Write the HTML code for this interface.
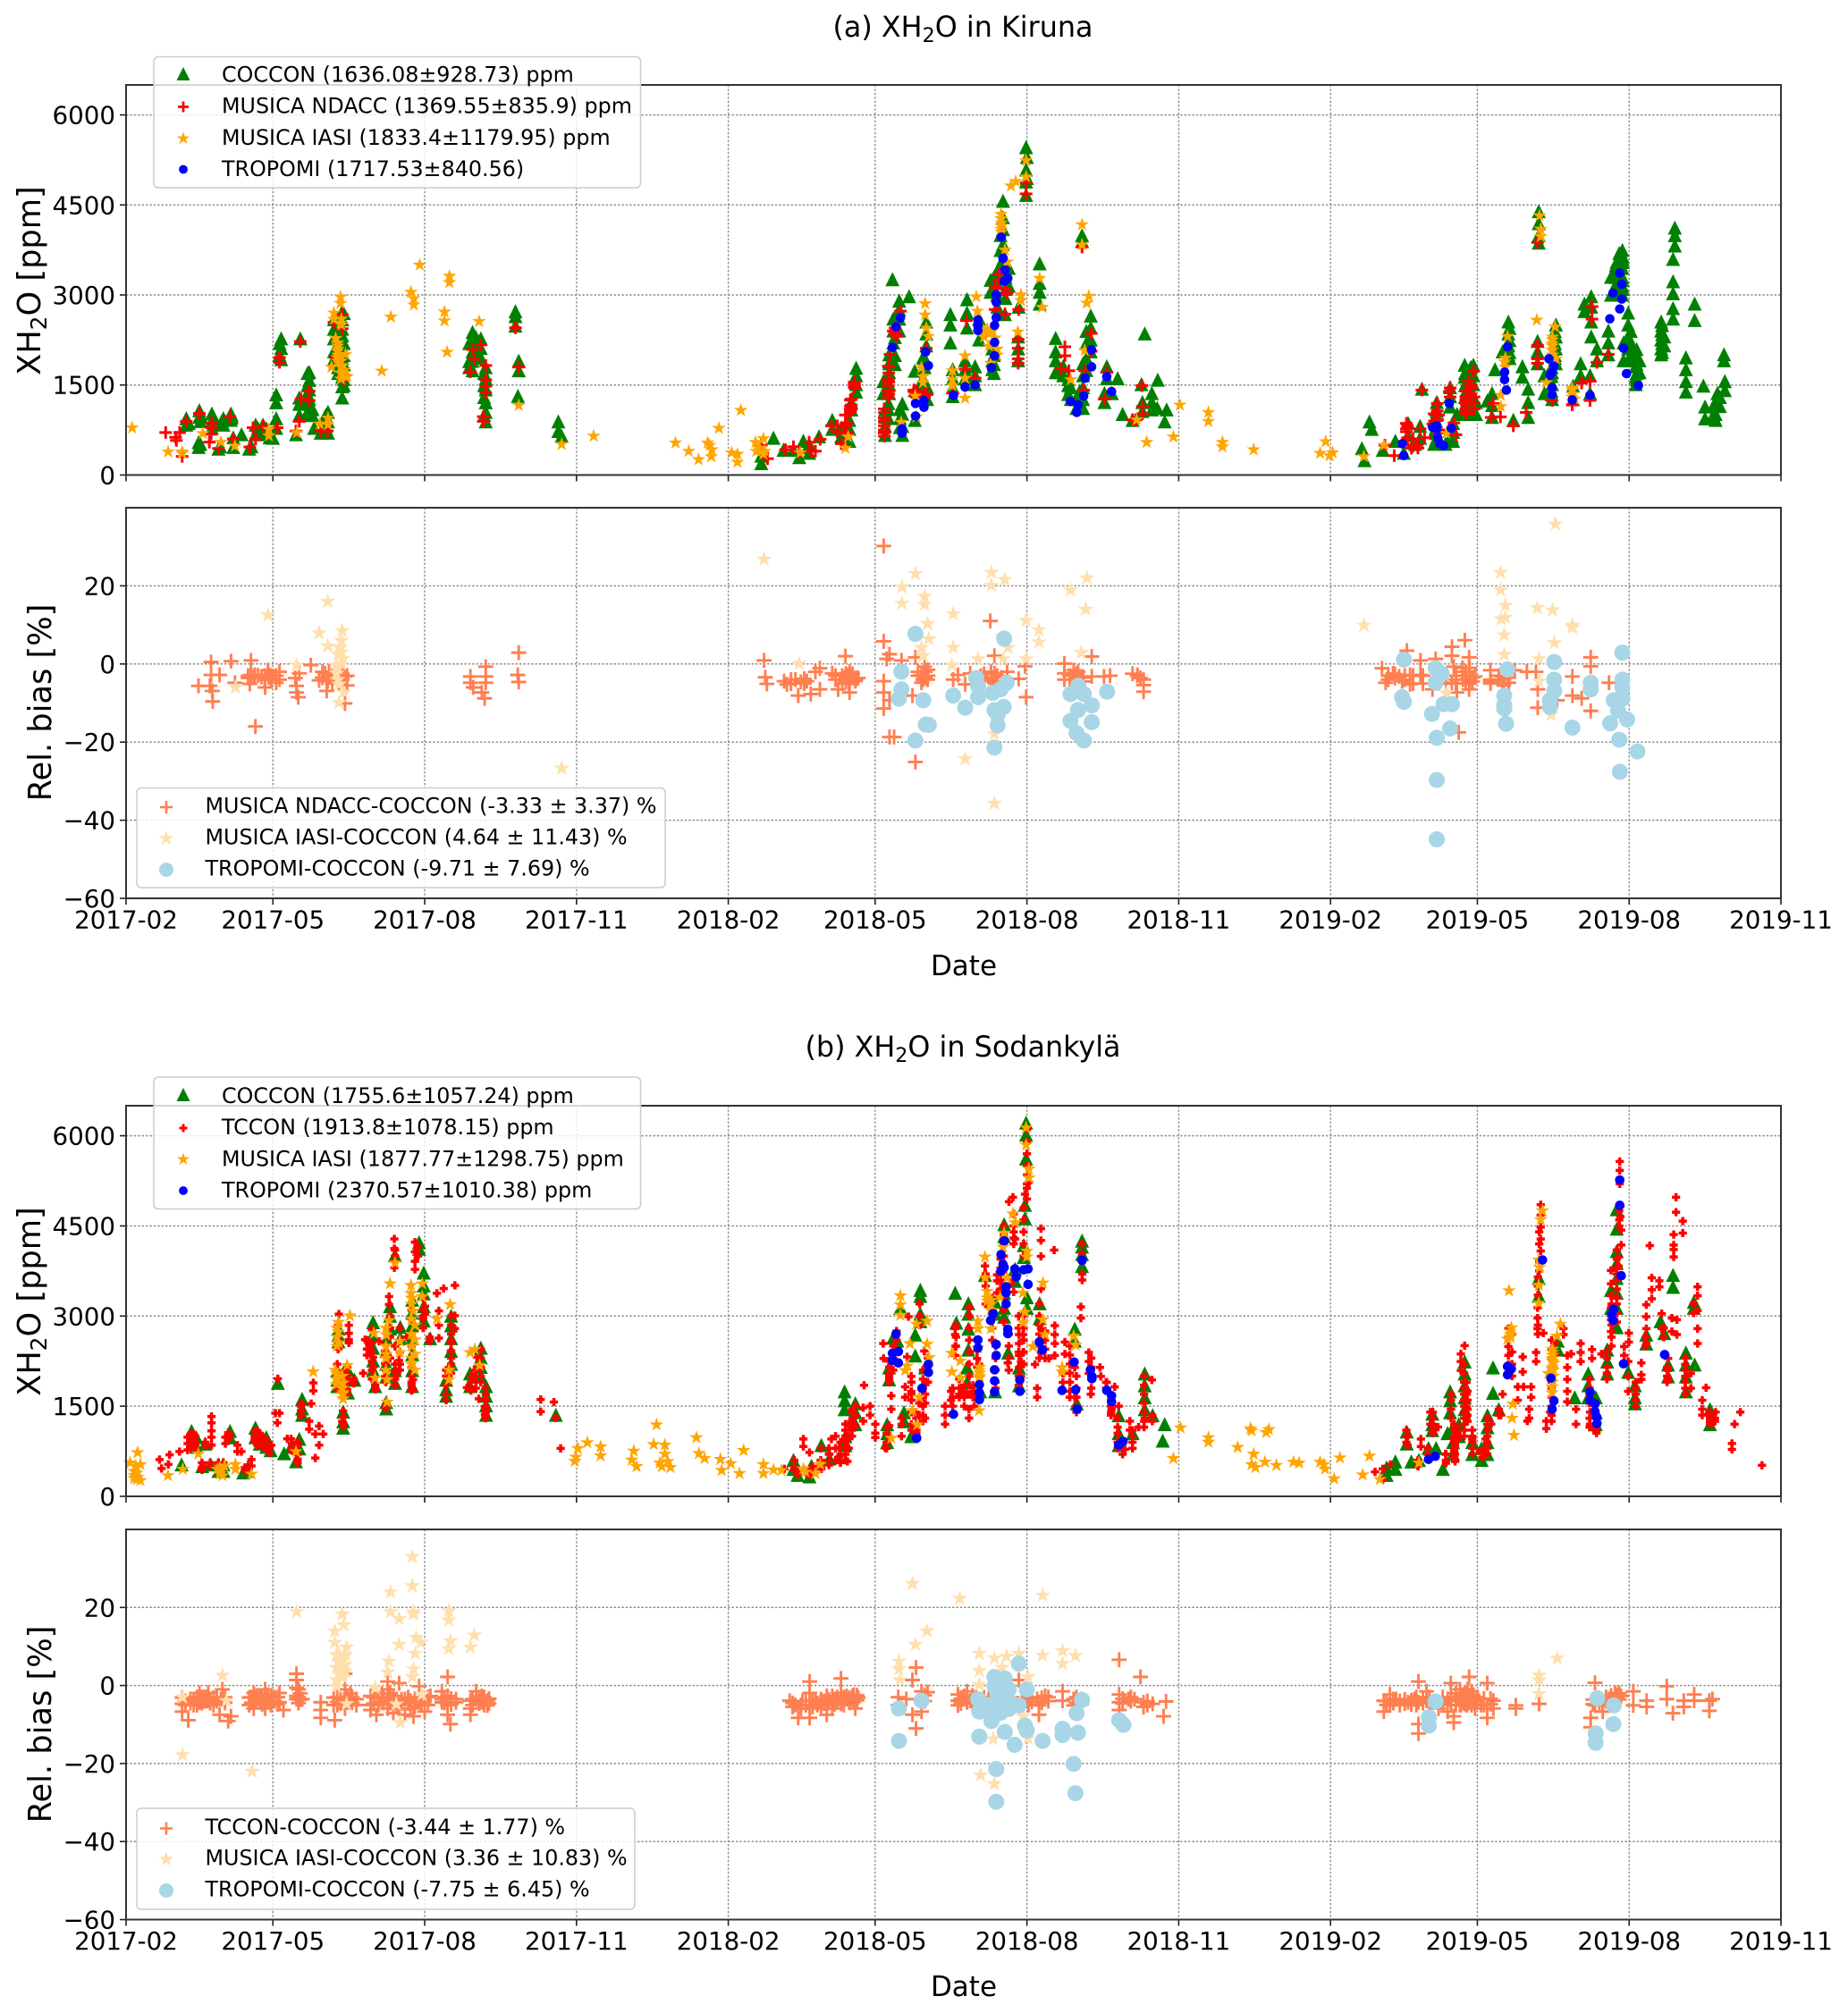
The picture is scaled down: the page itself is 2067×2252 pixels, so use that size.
<!DOCTYPE html>
<html lang="en">
<head>
<meta charset="utf-8">
<title>XH2O in Kiruna and Sodankylä</title>
<style>
html,body{margin:0;padding:0;background:#fff;}
svg{display:block;font-family:"DejaVu Sans","Liberation Sans",sans-serif;fill:#000;}
.tk{font-size:27.7px;}
.lg{font-size:23.8px;}
.ttl{font-size:31.8px;}
.xl{font-size:31px;}
.yl{font-size:35.2px;}
.box{fill:#fff;fill-opacity:.8;stroke:#ccc;stroke-width:1.5;}
</style>
</head>
<body>
<svg id="fig" xmlns="http://www.w3.org/2000/svg" width="2067" height="2252" viewBox="0 0 2067 2252">
  <rect width="2067" height="2252" fill="#fff"/>
  <g id="plots"></g>

  <text class="ttl" x="1077" y="41" text-anchor="middle">(a) XH<tspan dy="6" font-size="22.2">2</tspan><tspan dy="-6">O in Kiruna</tspan></text>
  <text class="ttl" x="1077" y="1182" text-anchor="middle">(b) XH<tspan dy="6" font-size="22.2">2</tspan><tspan dy="-6">O in Sodankylä</tspan></text>

  <text class="xl" x="1078" y="1091" text-anchor="middle">Date</text>
  <text class="xl" x="1078" y="2233" text-anchor="middle">Date</text>

  <text class="yl" transform="translate(45,314) rotate(-90)" text-anchor="middle">XH<tspan dy="7" font-size="24.6">2</tspan><tspan dy="-7">O [ppm]</tspan></text>
  <text class="yl" transform="translate(57,786) rotate(-90)" text-anchor="middle">Rel. bias [%]</text>
  <text class="yl" transform="translate(45,1456) rotate(-90)" text-anchor="middle">XH<tspan dy="7" font-size="24.6">2</tspan><tspan dy="-7">O [ppm]</tspan></text>
  <text class="yl" transform="translate(57,1929) rotate(-90)" text-anchor="middle">Rel. bias [%]</text>

  <!-- legend a top -->
  <g>
    <rect class="box" x="172" y="63.5" width="544.5" height="146.5" rx="5"/>
    <g><polygon points="205,75 212.5,90 197.5,90" fill="#008000"/><text class="lg" x="248" y="91.5">COCCON (1636.08±928.73) ppm</text></g>
    <g><path d="M199 119.5H211M205 113.5V125.5" stroke="#f00" stroke-width="2.8" fill="none"/><text class="lg" x="248" y="126.5">MUSICA NDACC (1369.55±835.9) ppm</text></g>
    <g><polygon points="0,-1 .2245,-.309 .951,-.309 .363,.118 .588,.809 0,.382 -.588,.809 -.363,.118 -.951,-.309 -.2245,-.309" transform="translate(205,155) scale(7.6)" fill="#ffa500"/><text class="lg" x="248" y="162">MUSICA IASI (1833.4±1179.95) ppm</text></g>
    <g><circle cx="205" cy="189.5" r="4.9" fill="#00f"/><text class="lg" x="248" y="197">TROPOMI (1717.53±840.56)</text></g>
  </g>
  <!-- legend a bias -->
  <g>
    <rect class="box" x="153" y="881.5" width="591" height="111.5" rx="5"/>
    <g><path d="M179 903H193M186 896V910" stroke="#ff7f50" stroke-width="2.6" fill="none"/><text class="lg" x="229.5" y="909.5">MUSICA NDACC-COCCON (-3.33 ± 3.37) %</text></g>
    <g><polygon points="0,-1 .2245,-.309 .951,-.309 .363,.118 .588,.809 0,.382 -.588,.809 -.363,.118 -.951,-.309 -.2245,-.309" transform="translate(186,938) scale(9)" fill="#ffdfae"/><text class="lg" x="229.5" y="944.5">MUSICA IASI-COCCON (4.64 ± 11.43) %</text></g>
    <g><circle cx="186" cy="973" r="8" fill="#a8d6e6"/><text class="lg" x="229.5" y="979.5">TROPOMI-COCCON (-9.71 ± 7.69) %</text></g>
  </g>
  <!-- legend b top -->
  <g>
    <rect class="box" x="172" y="1205" width="544.5" height="147.5" rx="5"/>
    <g><polygon points="205,1217 212.5,1232 197.5,1232" fill="#008000"/><text class="lg" x="248" y="1234">COCCON (1755.6±1057.24) ppm</text></g>
    <g><path d="M200.5 1262H209.5M205 1257.500V1266.500" stroke="#f00" stroke-width="3" fill="none"/><text class="lg" x="248" y="1269">TCCON (1913.8±1078.15) ppm</text></g>
    <g><polygon points="0,-1 .2245,-.309 .951,-.309 .363,.118 .588,.809 0,.382 -.588,.809 -.363,.118 -.951,-.309 -.2245,-.309" transform="translate(205,1297) scale(7.6)" fill="#ffa500"/><text class="lg" x="248" y="1304.5">MUSICA IASI (1877.77±1298.75) ppm</text></g>
    <g><circle cx="205" cy="1332" r="4.9" fill="#00f"/><text class="lg" x="248" y="1339.5">TROPOMI (2370.57±1010.38) ppm</text></g>
  </g>
  <!-- legend b bias -->
  <g>
    <rect class="box" x="153" y="2023" width="557" height="113" rx="5"/>
    <g><path d="M179 2045.5H193M186 2038.5V2052.5" stroke="#ff7f50" stroke-width="2.6" fill="none"/><text class="lg" x="229.5" y="2052">TCCON-COCCON (-3.44 ± 1.77) %</text></g>
    <g><polygon points="0,-1 .2245,-.309 .951,-.309 .363,.118 .588,.809 0,.382 -.588,.809 -.363,.118 -.951,-.309 -.2245,-.309" transform="translate(186,2080) scale(9)" fill="#ffdfae"/><text class="lg" x="229.5" y="2086.5">MUSICA IASI-COCCON (3.36 ± 10.83) %</text></g>
    <g><circle cx="186" cy="2115" r="8" fill="#a8d6e6"/><text class="lg" x="229.5" y="2121.5">TROPOMI-COCCON (-7.75 ± 6.45) %</text></g>
  </g>
</svg>

<script>
/* Every row is [days since 2017-02-01, value, value, ...]. */
const dateTickLabels = ['2017-02','2017-05','2017-08','2017-11','2018-02','2018-05','2018-08','2018-11','2019-02','2019-05','2019-08','2019-11'];
const ppmTickValues = [0,1500,3000,4500,6000];
const biasTickValues = [-60,-40,-20,0,20];

const kirunaCoccon = [
[36.5,947,840],[38,867],[44,548,468],[44.4,1080,973],[52,1026,894,787],[56,441],[59,947,840],[63.5,1026,920],[65,628,468],[70,680],[74.6,441],[78.5,840,680],[83,840,680],[87,628],[91,947,787,1345,1213],[94,2277,2117,1931],[103,680],[105.6,2277],[105,1293,1186,1000],[111,1718,1585,1426,1266,1106,1000],[114,787],[118,707],[122.4,1053,894,707],[131,2729,2596,2437,2330,2117,1958,1798,1638,1479,1293],[126,2596,2437,2277,2064,1931],[210,2383,2224,2064,1905,1745],[215,2277,2117,1958],[218,1798,1612,1426,1213,1053,894],[236,2729,2649,2490],[238,1905,1745],[237.5,1319],[262,894,734],[264,654],
[128.5,2500,2300,2100,1950,1800,1700],[132,2700,2200,2000,1850,1600,1500],[110,1700,1500,1350,1200,1050],[113,1100,1000],[45,1000,900,520],[53,950,850],[57,480],[58,900],[64,1000,960],[76,480],[80,780],[85,780],[89,620],[93,2200,2000],[121,1000,800],[208,2200,1900,1800],[212,2300,2150,2000],[217,1700,1500,1300,1000],
[385,199,323],[392.4,621],[398.5,422],[404.5,422],[408,298],[410.5,571],[414,521,372],[420,646],[428,919,770],[433.5,795,646],[438.4,919,770,571],[439.6,1217,1093],[442.5,1788,1664,1515,1391],[460,1093,969,820,670],[459,1565,1366],[462.5,2012,1863,1714,1515,1366],[464.5,3263],[465,2608,2409,2210],[468.6,2906,2757,2608,2409],[470.5,1192,1018,820,670],[474.6,2980],[478,1738,1416,919],[483,1962,1614,1267],[485,2558,2359,2160],[485.5,1465,1267],[499.6,2682,2508,2210],[501,1763,1614,1465,1316],[508.5,1912,1763,1614],[509.7,2930,2707,2459],[514.6,1813,1664,1515],[517,2608,2260],[524,3253,3055],[525,2111,1912,1763],[528,3402,3204,3005,2806],[531.5,4570,4296,4098,3849,3601,3402],[532.7,2682],[535,3452,3154],[541,2806],[540.7,2310,2111,1912],[545.5,5464,5091,4892,4669],[553.7,3527,3204,3055,2856],[563.4,2285,2061,1912,1714],[566,1714],[568,1813,1664],[572.6,1465,1267],[576,1267,1118],[579.4,3998,3899],[580,1863,1664,1465,1267,1118],[584.7,2657,2459,2260,2061],[594.4,1813,1614],[593,1366,1217],[597.5,1366],[601,1614],[604,1018],[610,919],[615.4,1515],[616,1217,1068],[617.4,2359],[621.7,1366,1217,1093],[625.3,1589],[625,1118],[629.5,894],[630.7,1093],
[462,1200,1100,950],[466,2300,2000,1850],[469,1100,950,800],[482,1550,1400],[484,1950,1800],[526,3300,3100,2000,1850,1700],[530,4000,3750,3500,3300],[533,3300,3100,2950],[546,5300,4950],[571,1600,1500,1350],[578,1400,1300,1200],[582,2400,2200,1950,1750],
[749,447],[750.6,248],[753.6,894],[755,770],[761.7,422],[769.3,571],[774.4,372],[777,869,670],[781.3,521],[784.3,820,620],[785.4,1440],[792.8,919,720,521],[794.4,1217,1068],[799.7,521],[802.5,1465,1316,1142],[804.3,869,720,571],[806.7,1018],[811.3,1838,1639],[816.6,1838,1664,1515,1267],[812.4,1416,1217,1018],[818.2,1217,1018],[825,1242],[827.9,1366,1167,969],[829.7,1763],[837.8,2558,2359,2160,2012],[834.3,2061],[840.8,919],[846.3,1813,1639],[849.8,1440,1217,969],[856.2,4396,4197,3998,3874],[855.5,2235,2061,1863],[866.6,2508,2310,2111,1863],[859.7,1664,1366],[864.3,1714,1515,1267],[877,1490,1267],[881.6,1863,1664],[883.9,2856,2732],[888,2980,2806,2558,2310],[887.3,1664,1366],[891.5,2111,1912],[898.4,2409,2210,2011],[906.9,3750,3601,3452,3303,3154,3005],[903.4,3551,3353,3204,3055],[900,3303,3005],[910.4,2707,2508,2310,2111,1912],[907.6,2210,1912],[915,2011,1813,1639,1515],[917.3,1912,1714],[930.4,2558,2409,2260,2111,2012],[932.3,2310,2161],[938.7,4123,3998,3825],[937.6,3601,3229,3030,2782,2608],[950.7,2856,2583],[945.4,1962,1763,1565,1391],[956,1490],[957,1142,944],[963.4,1217,1018,919],[968.5,2012,1912],[969,1565,1416],[964.5,1366,1217],
[905,3700,3500,3400,3200,3100],[903,3500,3400,3300,3150],[907,3650,3550,3250,3100],[915.500,2100,1950,1850,1700,1600],[912,2400,2200,2000],[931,2500,2350,2200,2050],[811.500,1700,1500,1300,1150,1100],[815,1800,1700,1550,1400,1200,1050],[794,1100,1000,900,800,700,600],[803.500,800,650,600],[864,1800,1650,1400,1350],[838.500,2450,2250,2050,1950],[866,2400,2200,2000,1950],[962,1150,1000,950],[966,1300,1150]];

const kirunaNdacc = [
[24,707],[30,628],[30.5,575],[32.5,707],[34,309],[36.5,894],[44.4,1026],[52,867,787],[51.5,680],[50.5,548],[56,441],[63,973],[65,601],[75,468],[77,787],[78.5,601],[83,814],[91.6,787],[93,1958,1878],[103,734],[105,894],[105.6,2224],[106,1266],[111,1399,1240],[118,734],[122,734],[126,2543],[127,1958],[131,2676,2437],[132,1585],[208.6,1718],[210,2091],[211,1931],[215,2170],[218,1825,1585,1479,1373],[216.5,973,894],[236,2452],[238,1798],
[385,497],[386,373],[388.8,273],[399.7,422],[404.5,472],[408,372],[414,546],[415.4,397],[417.8,397],[420.7,596],[427.5,820],[431,820,720],[433.5,521],[437,869,695],[439.6,1267,1167,1093],[441.3,1540,1465],[459.6,1043,820,646],[462,1590,1490,1291,1813],[463,2012],[465,2399],[467,2310],[469.3,2732],[477.5,1416,1391],[485.5,1341],[485,2111],[509.3,2573],[501,1366],[508.5,1763],[514.6,1614],[526.7,3129,2757],[528,3005],[532.7,2682],[534,3030],[541,2757],[540.7,2260,2111,1937,1863],[545.5,4868,4684],[569,2136,1987],[566.6,1773],[571.4,1738],[579.4,3800],[581,1738],[580.4,1416],[585,2359,2061],[594.4,1714],[593,1267],[610,919],[612,919],[615.7,1490],[616,1142,1018],
[436,1000,850,800,700],[439,1250,1150,1100,1050],[441.5,1550,1500,1450],[459.5,1100,950,900,750,700],[462.3,1800,1700,1550,1400,1350],[466,2450,2350],[479,1400,1350,1300],[484,1350,1300],[529,3350,3250],[533,3100],
[762.9,497],[768.6,323],[776.7,820,621],[779,447],[782.5,497],[784.3,770],[787,621],[785.4,1416],[792.8,1018],[794.7,1192,1068],[795,919],[804.8,869],[806,670],[802,1391],[813.6,1565],[816.6,1729],[814.7,1316],[812.4,1167,1018],[827.4,959],[828.6,1192],[833,969],[840.8,820],[848.6,1043],[855.5,3874,2161,1937,1863],[864.3,1242],[876.5,1167],[882.2,1530],[887.3,1565,1242],[888.5,2806,2598],[891.5,1877],[898.4,2011],
[793,900,850,800],[795.5,750,700,1000],[812,1400,1300,1250,1200,1100,1050],[815,1500,1450,1350],[817,1300,1200,1100],[792,850],[776,860,770,720],[780,600,500,480],[783,450],[802.5,1450,1300]];

const kirunaIasi = [
[3.7,787],[25.5,388],[34,388,362],[46.5,692],[57.5,548],[66,484],[86.5,761,654],[103.5,707],[117.4,851],[122.4,947,840],[130,2968,2862,2532],[126,2702,2596],[127,2277],[128,2064,1958],[124.5,1798],[133,2011],[131,1825],[132,1692],[134,1638],[155,1734],[160.5,2633],[172.6,3048],[174.4,2942,2836],[178,3500],[193,2718,2570],[194.6,2048],[196,3314,3208],[214,2559],[238,1160],[264,511],[283.4,649],
[128.3,2200,2150,2100,2000,1900],[130.2,1900,1800,1700,1600],[132.5,1750,1650],[130.5,2600,2500],
[333,536],[341,397],[347,258],[352.5,536],[353.7,497],[355,422],[354.7,308],[359.3,780],[367,372],[370.6,348,214],[372.6,1078],[381.5,546],[382,397],[386.3,606,348],[408.6,372],[436,447],[437.6,636],[469.8,879],[478.3,1316],[479,969],[482,1788],[483,1639,1540],[484.3,2856,2667],[485,2449],[486.3,2310],[500.8,1738,1589,1490],[508.5,1987,1614,1281],[515.3,2970],[516,2732],[522,2434],[524.3,2384],[525.5,2185],[524,1863],[526.7,2285],[530.3,4272,4098,4346],[532.7,3750],[534,3551],[536.3,4818],[539.2,4893],[545.5,5240,4967],[542.4,3005,2906],[540.5,2384],[553.7,3278],[555.2,2796],[572.6,1589],[579.4,4172,3835],[581,2076],[583.5,2980],[582.3,2866],[612.5,919],[618.6,546],[634.8,636],[638.7,1167],[656,1043,894],[664.5,546,472],
[530.5,4200,4150,4050],[384,450,420],[387,400],[520,2400,2300],[523,2350,2150],[528,2100,2000],
[683.4,422],[727.1,556],[723.7,363],[729.4,323],[731.3,372],[750.2,308],[762.4,497],[800.2,695],[833.2,1331,1142],[835.5,1887],[855,2583],[856.7,4321],[857.4,4098,3974],[837.3,2310],[866.1,2469],[864.3,2185,2086],[866.6,1937],[860.8,1540],[876.5,1416],[878,1267],
[864.5,2300,2250,2150,2000,1950,1850],[836,1950,1800],[876.5,1450,1350,1300]];

const kirunaTropomi = [
[464.5,2126],[466.6,2469],[469.3,2618],[470.3,770,695],[478.5,1192,983],[483.6,1242,1128],[484.6,2051],[486.3,1823],[501.5,1326],[508.5,1465],[514.6,1500],[516.3,2583,2484,2409],[524.5,1788],[526.4,1987,2210,2493],[527.4,2623,2881,3005],[532.2,3229],[532.7,3412],[534.4,3278],[531.5,3611],[530.5,3964],[572.4,1227],[576.2,1043],[577,1167],[580.4,1316],[581.3,1614],[585.2,1803,2086],[594.4,1639],[597.3,1391],
[773.5,521],[774.4,323],[791.9,795],[794.4,820,770],[795,621],[796.3,521],[798.6,487],[802,1192],[803.2,780],[835.5,1714,1589],[836.6,1416],[837.3,2136],[862.4,1937],[865.4,1813],[864.3,1714,1455,1341],[863.1,1664],[876.5,1252],[887.3,1331],[905.3,3363,2767],[906.5,3179,2931],[901.2,3030],[899.3,2603],[907.6,2111],[909.4,1689],[916.6,1490]];

const kirunaNdaccBias = [
[43.9,-5.6],[51.5,0.5,-2.8],[50.8,-5.6],[52.2,-6.9],[52.5,-9.6],[56.7,-2.8],[63.6,0.7],[66,-4.8],[75.7,0.9,-2.8],[75,-5.1],[77.4,-3.2],[78.4,-16],[80,-2.9],[82,-3.3],[84.3,-3.2,-6],[86,-1.6],[87.8,-4],[93,-2,-4],[102.6,-3.6],[103.3,-5.6,-7.3],[104.4,-8.5],[105,-2.4],[112,-0.3],[117,-4.2],[120.6,-2.4],[121.6,-6.9],[122.3,-4.4],[132.7,-10.1,-3.2],
[84,-3,-3.5,-4],[86.500,-2.8,-3.4],[88,-3],[78,-2.8,-3.4],[74,-3,-3.6],[91,-3,-4.8],[119,-2,-3.5],[123,-3,-2],[125,-5,-3],[129,-3.2,-5],[131,-4,-2.5],[134,-3,-5.5],
[208.7,-3.2,-4.8],[210.4,-6],[215.6,-7.3],[217.3,-8.8],[218,-0.7,-3.2,-4.8],[237.4,-2.8],[238,2.9,-4.6],
[386.7,0.9],[387.4,-3.4],[388.4,-5.1],[398.8,-4.4],[400.5,-5.2],[405.7,-4],[407.4,-8.1],[409,-4.6],[412.6,-4.4],[415,-7.7],[417.8,-2],[420.5,-6.5,-1.1],[428,-2.4],[431.6,-6.5],[436,2],[436.8,-2.8],[438.5,-7.3,-4,-2],[440,-3],[442,-4.4],[443.7,-3.6],
[430,-3,-4],[434,-3,-4,-5],[436.200,-3.5,-4.5,-2.5],[438,-3,-5],[440.300,-3.6,-2.5],[442.300,-4],[403,-5,-4],[411,-5,-3.8],
[459.2,30.2,5.8,-4.4,-7.3,-11.4],[462.7,-18.7,2.5,-9.3],[461,1.3],[465.5,-18.7],[478.4,1.7,-25.1],[470,0.9],[476.6,-8.1],[482.1,-4.8,-2.8],[484,-0.7],[485.8,-4],[501.3,-4],[508.6,-5.2],[504.2,-2.8],[511.6,-2.4],[523.8,11],[526.3,2.1,-2.4],[524.5,-4.4],[541,-3.8],[544.8,-0.6],[545.5,-8.5],[568.7,0.1,-4,-2.4],[574.3,-1.6],[579.8,-3.2],[585.3,1.9,-3.2],[592.7,-3.2],[596.4,-3],[610,-2.5],[614.8,-3.6],[616.7,-4,-5.4,-7.1],
[480,-3,-2],[484.300,-2,-3.5,-3],[486,-3,-1.5],[483,-4,-3],[518,-3,-4],[524.200,-4,-2],[526.500,-5,-3.5],[528,-3,-4.500,-6],[531,-3.5,-5],[534,-4,-2],[520,-3.5,-2.5],[572,-3,-4],[576,-3,-2.500,-4],[580,-3.5,-4.500],[613,-3,-2.800],[577,-2,-3.6],
[761.2,-1.1],[763.4,-4.8],[767.9,-2.4],[771.6,-3.2],[776.3,3.4],[773.4,-4.4],[778.2,-5.2,-2.8],[784.5,0.9,-2.8],[791.8,-6.5],[793.7,1.3],[803.6,4.4,2.1,-4.8],[811.4,6.1],[804.7,-0.7],[814,1.7,-2,-6.5],[806.6,-7.3],[807.7,-17.5],[810.3,-4],[817.6,-3.2],[826.9,-4.4,-1.6],[834.2,-3.2,-4.8],[841.6,-1.6],[849,-2],[854.5,-2],[855.6,-11.2,-6.5],[876.6,-3.2,-8.1],[882.2,-8.8],[887.7,1.7,-0.6,-12],[898.8,-4.8],[867.4,-9.3],
[765,-3,-4],[769,-3.6,-2.6],[775,-3,-4],[780,-3,-5],[786,-3,-5],[800,-3,-5],[806,-3,-4,-5],[810,-2,-1,-3],[812,-3,-4,-5,-2],[814.300,-3,-4,-5,-1],[816,-3.5,-4.500],[827,-4,-5],[832,-4,-3],[835,-4,-5.500],[838,-3.500,-4.800]];

const kirunaIasiBias = [
[86,12.5],[122.3,16,4.6],[117,7.9],[131,8.5],[129.2,4.2],[130,4.2],[127.5,-0.3,-2.4],[131.5,1.3],[129,-5.2,-9.9],[132,-7.3],[66.3,-6],[103.3,-0.3],[264,-26.7],[386.7,26.8],[408,0.1],
[130.5,6,3,0],[128.5,2.5,-1,-4],
[478.4,23.1],[470.3,19.7,15.5],[484,17.3,15.2],[485.8,10.3],[486.5,6.4],[482.1,4.2],[483,2.1],[501.3,12.8,4.2],[500.5,-0.3],[508.6,-24.3],[516.4,1.3],[524.5,23.4,20.1],[532.6,21.6],[531,7],[534.5,4.2],[531.5,1.3],[526.3,-17.9,-35.7],[545.5,11.1,1.3],[553.3,8.7,5.6],[572.4,18.9],[582.4,22],[581.6,14],[579,2.9],
[750.2,9.9],[833.1,23.4,18.9],[836,15,11.9],[833.5,11.5],[835.3,7.4,2.4],[800.3,-7.4],[855.3,14.4],[864.5,13.8],[866.3,35.8],[865.6,5.4],[876.6,9.9,9.3],[856.4,1.3,-4.4],[863.7,-13]];

const kirunaTropomiBias = [
[469.9,-2,-6.5],[468.4,-8.9],[478.4,7.7,-19.6],[483.2,-9.3],[484.7,-15.5],[486.5,-15.6],[501.3,-8.1],[508.6,-11.2],[515.3,-3.6],[516.4,-5.6,-8.5],[525.2,-7.4],[526.3,-11.8,-21.4],[528.2,-13,-15.7],[531.9,-11],[532.2,6.5],[530,-6.5],[533.7,-4.8],[572.4,-7.7,-14.6],[576.9,-11.8],[576.1,-17.7],[580.5,-19.6,-7.7],[577.2,-5.6],[585.3,-10.6,-14.9],[594.6,-7.1],
[774.5,1.1,-9.7],[773.4,-8.5],[791.5,-12.8],[793.7,-1.1,-4.8],[797.4,-2.5],[798.5,-10.3],[803.6,-10.3],[794.4,-18.9,-29.7,-44.9],[802.5,-16.5],[835.3,-8.1,-10.6,-11.4],[836.4,-15.3],[837.2,-1.4],[865.6,0.5,-4,-6.9],[863,-9.3,-11],[876.6,-16.3],[887.7,-4.8,-6.5],[899.5,-15.2],[901.7,-9.3],[904.3,-12],[906.9,2.9,-4,-6,-8.9],[905,-19.4],[905.4,-27.6],[909.8,-14.2],[916,-22.4]];

const sodankylaCoccon = [
[33.6,532],[39.7,1090,984,878],[42.6,984,825],[48,878],[46.2,505],[51.3,532],[56,532,425],[59,532,425],[63,1090,984],[71,399],[74,425],[78.4,1144,984],[81,984,878],[85,984,825],[87.6,771],[92,1889],[95.8,718],[100,825],[105,958,798],[103,585],[106.7,1623,1463,1357],[128.7,2793,2687,2580],[128,2101,1942,1835],[131.6,2048,1410,1250,1144],[134.5,2101,1942,1729],[138.4,1942],[149.7,2899,2687,2474,2261,2101],[151,1835],[157.7,2633,2421,2208,1995,1569,1463],[160,3165,3006,2793],[163,2101,1889,4017],[166.2,2820,2633],[173.4,3272,3059,2846,2633,2367,2101,1835],[177.6,4229,4123],[180.4,3724,3511,3378,3165,2926],[184.3,2633],[194,1942,1782,1676],[197,3006,2846,2633,2421,2208],[208.5,2048,1835],[215,2474,2314,2155,1995],[218.2,1835,1676,1516,1357],[260.5,1357],
[404.5,606,457],[407,358],[414.2,333],[415.4,507],[421.4,854],[426.3,631],[435.5,1748,1599,1450],[436,1003,854],[442,1550,1401,1202],[461.3,1202,1053,904],[469.3,3139],[465,2642],[467.4,2593],[462.5,2146,1947],[481.4,3437,3338,3040,2916],[478.3,2692,2344],[471.5,1401,1252],[475.9,1003],[484.3,2146],[502.5,3388],[503.2,2891],[510.5,3214,3040,2791,2444],[509.7,2146,1897],[517.7,1748],[520.6,3685],[526.7,3238,3040,1748],[532.2,4530,4331,3388,3139,2990],[534.6,2394],[538.8,3785,3586],[545.5,6219,6020,5623],[544.8,4853,4629],[544.1,4182,3984],[541.2,2146,1848],[546,3313,3139],[553.7,3214,2965],[579.4,4257,4157,4033,3834],[575,2791,2593],[576.2,1550],[601.6,1351,1053,854],[610.1,1053],[617.4,2046,1848,1649,1450],[622.2,1351],[629.5,1202],[628.3,929],
[776.2,1078,879],[779,581],[783.6,606],[769.3,581,457],[764,482,358],[789.4,805],[791.7,1376,1202,1103],[794,805],[798.1,457],[802.5,1748,1599,1401],[800.9,1053],[811.3,2245,2046,1848,1649,1450],[807.8,1202,1003],[804.3,1152,904,705],[815.9,904,705],[821.6,805,606],[825.1,1351,1152,904,705],[828.5,2146,1724],[832,1450],[856.2,3636,3338],[867.7,2593,2444],[878,1649],[886.2,2046,1848,1649],[890.8,1649,1401,1202],[897.7,2444,2245,2046],[903.5,4778,4455,4083,3884,3636,3388,3139,2816],[900,3437,3139],[910.4,2071],[914.5,1848,1649,1550],[921.4,2692,2543],[930,2916],[932.3,2717],[934.6,2195,1997],[937.6,3685,3487],[945.4,2394,2195,1997,1748],[950.7,2195],[950.2,3238,3139],[960,1450,1202]];

const sodankylaTccon = [
[20.3,612],[21.5,463],[26.4,692],[25.6,532],[32.4,745],[37.3,771,878,984],[40.9,1037,931],[47,505],[51.8,1330,1223,1090,984,851],[60.2,984,878],[67.5,851,745],[69.9,745],[76,612,505],[79.6,1090,984,851],[84.4,931,825],[88,851],[92,1958],[90.5,1383],[93,1383],[91.7,1223],[97.7,958],[100,958],[103.8,585],[106.2,1436,1543],[112.2,1543],[113.5,1889,1756],[111,1250,1117],[114.7,638,1037],[117,1170,851],[119.5,1037],[129,3032,2474],[135,2846,2713,2607,2554],[131,1250],[143.7,2048],[144.9,2607],[147.3,2527],[149.7,2314,2155,1995],[153.4,2580],[157,2421,2208,1995],[159.4,3325,3192],[162.6,4283,4123,3910,3804],[165.5,2261,2101],[175.1,4229,4070,3910,3777],[173.9,1942,1782],[181.2,3165,3032],[188.4,3378],[192.5,3458],[199.3,3511,3006,2793],[189.6,3086,2846,2633],[196.9,2580,2421],[206.6,1809],[210.2,1995],[213.8,1623],[212.6,2314,2155],[217.5,1623,1490,1357],[251.3,1612,1410],[259.3,1569],[260.5,1303],[263.4,798],
[39.5,1050,960,900,840,800],[42,1000,900,860,800],[46,560,480,440],[48,900,840],[51,560,500],[56,560,500,460],[59,560,480],[62,1060,1000,950],[63,1020],[72,480,420],[74,520,460],[78,1080,1000,950,900],[81,1050,970,900],[83,980,880,820],[85,940,860,780],[87,800,720],[100.500,880,800,760],[104,900,840,700,620,560],[106,1500,1420,1340],
[128.5,2850,2760,2650,2560,2450],[128,2200,2080,1980,1860,1780],[131.5,2060,1950,1420,1320,1220,1160],[134,2150,2020,1900,1780,1700],[138,1950,1880],[146,2600,2450,2350],[149,2780,2550,2400,2250,2100,1950],[151,1850,1780],[157.5,2520,2350,2220,2100,1980,1900,1500,1460],[160,3000,2800,2650,2300],[163,2500,2200,2000,2080,1950,1850,4100,4000],[166,2800,2600,2400,2200,2100],[170,2650],[173,3100,2950,2700,2500,2300,2150,2000,1900,1850,1760],[177,4150,4000],[180,3300,3100,2950,2800,3000],[184,2650,2580],[194,2000,1850,1700,1600,2100,2000],[197,3000,2850,2700,2550,2420,2300,2200,2050],[209,2000,1900,1820,1760],[212,2100,2000,1900,1800],[215,2450,2300,2150,2000,1900],[218,1800,1700,1600,1500,1450,1400,1330,1300],
[399,457],[410.5,954,829],[414.2,730],[415.4,407],[421.4,457],[427.5,954],[426.3,705],[432.3,805,656],[437.2,805,581],[436,1202,954],[440.3,1450,1301,1152],[446.8,1475,1252],[450.9,1500,1351],[447.3,1848],[454.1,1202,1053,978],[460.1,805],[462.5,1177,954,2046,1897],[463.8,1674,1450],[458.9,2543],[459.1,2295],[474.2,2990],[473.4,2320],[472.2,1823,1649],[475.9,1997,1748],[478.3,1401,1152],[480.7,1550,1351],[484.3,1897,1699,1550,1301],[483.8,2419],[496.4,1500,1351,1202],[500,1748,1599],[502.5,2493,2344,2791,2692],[510.9,1450,1301,1699],[505,1649],[515.8,2419,2295,2146],[513.3,1848,1649],[520.6,3834,3636],[527.9,3685,3586,3388],[531.5,3735,3536],[535.1,4903],[537.5,4977],[536.3,3536],[538.8,4282],[534.4,2220],[541.2,2692,2543,2344,2146],[543.6,2692,2394],[542.4,2245,1997],[544.8,5027],[546,5127],[547.2,5225],[554.5,4455,4257,3993,3452,2791,2593,2394],[562.5,4098],[552.2,1798,1649],[550.9,2195],[562.9,2841,2692,2543,2344],[559.3,2295],[569,2568,2369],[567.8,2046,1897],[575,2146,1649],[578.7,3154,2965],[583.5,2394,2245,2046],[584.7,1699],[590.3,2146],[590.8,1997],[594.4,1897],[599.2,1823],[597.3,1450],[601.6,1500],[605.3,780],[608.4,1252,1103],[613.7,1152],[617.4,1301],[621.7,1937],
[405,600,500,440],[407,420,360],[414,380,340,420],[416,500,450,400],[421,800,600,500,460],[426,800,700,600,520],[430,1000,800,600],[433,900,700,560],[436,1100,1000,900,800,700,600],[438,1200,1000,800],[440,1400,1250,1100,1000],[442,1500,1350,1180],[461,1150,1050,900,800],[462.5,2000,2150,2250,1950],[465,2500,2300,2100],[467,2750,2600,2450],[470,1300,1200,1000],[476,1900,1700,1600,1400,1200,1100],[479,1300,1050,1000,1100],[481,3200,3000,2850],[483,2100,1950,1800,1650,1500,1350,1250],[486,2300,2100,1900],[501,1800,1650,1500],[503,2850,2650,2500],[505,1950,1800,1700],[508,1850,1750,1650,1500],[511,3150,3000,2800,2600,2400,2200,2000,1850],[514,1750,1650,1500],[517,2200,2000,1850,1750],[521,3700,3500,3200],[525,3300,3100,2950,2800,2600],[527,2500,2300,2100,1900,1800],[530,3950,3800,3600,3450],[532,4500,4350,4200,4000,3300,3100,2900],[535,2700,2500,2300,2100],[538,4700,4500,4400,4300,4200,3600,3400],[541,3000,2800,2400,2000,1850],[544,4800,4600,4400,4200,4000,3000,2800,2600,2400,2200],[546,6100,5900,5700,5500,5350,5200,4950],[553.5,3200,3000,2850,2700,2500,2300],[557,2750,2600,2450,2300],[572,2500,2350,2200,2050,1900,1750,1650],[576,2000,1800,1650,1500,1400],[579.5,4200,4050,3900,3700,3600],[585,2300,2150,1950,1800],[594,1900,1800],[597,1600,1500,1400,1350],[601,1300,1150,1050,900,800],[604,900,800,700],[610,1100,1000,900,800],[617,2000,1850,1700,1550,1400,1250,1150],[622,1350,1250],
[757,407],[761.7,457,283],[766.3,531],[776.7,1003,854],[784.8,954,829],[790.5,1401,1202],[795.1,1152],[799.7,705],[805.5,1152,1003,854,705,581],[809,2369,2245,2096],[811.3,2508],[812.4,1897,1699,1500,1301],[815.9,1103,954],[820.5,755],[824,954,805],[827.4,1202],[833.2,1351],[834.3,1699],[837.8,2791,2642,2493,2344,2195],[846.5,2320,2071],[843.5,1823,1599],[847,1823],[851.6,1823,1649],[850.4,1450,1301],[849.3,1252],[854.6,2394,2245],[857.4,4853,4679,4480,4282,4083],[855.5,3139,2965,2791],[859,2717],[860.8,1252,1127],[863.1,1401],[871.2,2791,2692],[873.5,2344,2146,1947,1748,1575],[875.8,2369],[878.8,1450,1202],[881.6,2543,2394,2245],[888.5,2444,2295],[887.3,1649,1401,1202],[891.2,1053],[894.2,2369],[900,3760,3536,3338,3139,2940,2742],[905.3,5573,5424,5200],[905.7,4828,4654],[906.2,4431,4182],[904.6,3984,3834],[910.8,2717,2568],[908,2493,2344],[910.4,2245,1997,1748],[918.4,2220,2022,1947],[923.5,4172],[921.4,3189,2990,2791,2543],[924.7,3636,3437,3288],[929.3,3586,3487],[930.7,3040,2791],[938,4356,4182,4108,3984],[939.4,4977,4729],[943.5,4580,4381],[936.9,2965,2742],[939.9,2940,2692],[934.6,2295,2096,1947],[952.5,3487,3338,3090,2791,2543],[945,2195,1997],[948.4,2046,1798],[957.6,1808],[955.3,1599,1450,1351],[961,1351,1202],[963.4,1401],[974.9,1202],[978.4,1401],[973.3,879,780],[991.5,517],
[776,1100,1000,900],[783,600,500],[789,800,700],[792,1400,1300,1200,1100,1050],[800,700,600,550],[803,1700,1600,1450,1300],[805,1200,1100,1000,950,900,800,750,650],[807,1050,950],[811,2200,2050,1900,1800,1700,1600,1500,1400,1300,1200,1100,1000],[813,1750,1600,1450,1350,1250],[816,1000,900,800,700],[822,750,650],[825,1300,1200,1100,1000,900,800,700],[832,1450,1350],[840,2700,2400,2200,2000],[855.7,3650,3500,3350,2850,2700],[856.5,4400,4200,3900,3750],[866,2550,2350],[864,2600,2450,2300,2100,1900,1800,1650,1500,1350,1250],[887,1950,1800,1700,1550,1300,1150],[891,1150,1100],[897.5,2400,2300,2150,2050,1950],[900.3,3200,3000,2850,2650,2500],[903.5,4100,3950,3800,3700,3600,3450,3300,3200,3050,2900],[905,4750,4600,4500],[915,1900,1800,1700,1600,1500],[921,2650,2500],[932,2800,2650],[934,2150,2000,1900],[945,2300,2100,1900,1800,1700],[950,3200,3050],[960,1400,1350,1300,1250,1200],[963,1300,1250]];

const sodankylaIasi = [
[2.4,559],[7,729,319],[5.8,505],[8.7,532,266],[25.4,346],[34.4,452],[43.8,708],[55.4,452],[58.5,346],[59.7,505],[66.3,532,452],[76,372],[103,745],[113.4,2075],[128.7,2899,2740],[129,2554],[135.7,3006],[126.8,2101],[127.5,1862],[131.5,1889,1729,1622],[134,2181],[150.2,2713],[150.9,1968],[157.7,2687,2367],[158.2,1942,1569],[159.4,2926],[160,3538],[165.9,2580,2394],[163,3884],[172.7,3378,3511],[173.9,3086],[175.1,2846,2607,2367,2101],[179.5,3538,3325],[188.4,2953],[196.4,3192],[195.7,2101,1942],[208.5,2394],[211.4,2447],[214.3,2181],[272.6,654],[273.8,798],[279.6,894],[287.6,825,676],[272,585],
[127.5,2050,1950],[131,2000,1800,1700],[127.8,2800,2650,2500],[173,3300,3200,2950,2700,2500,2300,2200],[157.5,2800,2500,2300,2100],[5,350,300,420],[6.5,280,390],[57,480,420,380],
[306.5,606],[307.7,755],[309.4,497],[321.5,1192],[319.8,864],[326.6,854,705],[323.5,556],[324.7,497],[328.3,581],[330,482],[345.7,978],[347.2,715],[350.6,631],[360.2,616],[361,432],[366.5,546],[374.3,765],[371.8,382],[386.3,531,382],[392.4,442],[397.2,432],[410.5,457],[411.8,407],[417.8,382],[420.7,531],[463.8,969],[469.3,3338,3189,3015],[485.5,2916,2533],[479,2866],[475.1,2543],[486.7,2310],[473.4,2171],[472.2,2096],[480.7,1649],[476.6,1426],[479.5,1192],[500.5,2384,2071],[505.6,2255,1972],[517,1426,2096,1972],[516.3,2916,2791,2469],[520.6,3984,3636],[521.8,3412],[524.2,3263,2791],[529.8,3313],[531.5,4147],[532.2,4381],[534,3636],[537.5,4704],[538.8,4555],[543.6,3388,2891],[544.8,3065],[545.5,6134,5846],[547.2,5449,5300],[546,4083,3984],[555.7,3551,2940],[557,2692],[549.6,2493],[567.3,2146,2071],[574.3,2667],[575.5,2518],[639.1,1142],[656,978,904],[673.7,815],[634.8,631],[682.2,531],[681.5,1127],
[524,3200,3100],[522,3300,3250],[517.3,2050,2000,2150],
[682.2,1093],[691,1063],[692.6,1113],[683.4,705],[684.5,482],[690.3,571],[697.2,517],[707.6,571],[711,556],[723.7,571],[726,531],[726.7,457],[735.7,641],[732.2,293],[749.5,358],[753.6,671],[759.9,283],[783.6,556],[838.2,3422],[839.6,2806],[839,2692],[837.3,2618],[840.5,1535],[840,1301],[841.2,1018],[856.2,3934,3512,3214],[856.7,3810],[858.5,4753],[857.4,4604],[869.3,2866],[867.3,2667],[864.3,2295,2121,1823,1724],[865.4,2220],[862,2046],
[864.5,2450,2400,2350,2250,2150,2000,1900],[865,2100,2000],[839,2750,2650]];

const sodankylaTropomi = [
[466.7,2702],[468.1,2409,2220],[464.5,2379,2260],[486.3,2195,2061],[482.4,1798],[479.2,969],[501.5,1366],[516.3,2603,2469],[517.2,1858,1724,1609],[524,2926],[525.5,3040],[527.4,2528,2344],[526.4,2106,1922,1738],[530.3,4023,3745],[531.5,3859],[532.2,3810,4252],[533.4,3487,3388,3204],[534.4,2782,2707],[538.7,3785],[539.5,3651],[541.7,1937,1748],[544.1,3770],[546.7,3785,3527],[553.5,2568],[555.4,2434],[567.3,1763],[574.6,2235],[575.5,1773],[576.5,1450],[579.4,3929],[584.5,2106],[585.4,1997,1957],[594.4,1763],[597.3,1674,1574],[601.6,854],[604.3,914],
[789.4,616],[793.5,666],[837.3,2161,2022],[839.6,2121],[858.5,3934],[863.6,1967],[865.4,1589],[864.3,1450],[887.3,1738,1599],[890.3,1540,1411],[891.5,1311,1212],[901.6,3114],[900.4,3030],[901.2,2931],[905.3,5265,4843],[906.2,3671],[907.6,2205],[932.5,2359]];

const sodankylaTcconBias = [
[34,-3.1,-4.7,-6.7],[37.7,-8.9],[41,-3.5,-5],[44.5,-1.9,-4.3],[47,-3,-4],[49.8,-1.9,-3.9],[53,-3.1,-5],[56.7,-7.5],[58.4,-1,-3.5],[61.9,-9.1],[63.6,-7.9],[74.6,-3.1,-5],[77.4,-1.9,-5.9],[81,-3,-4],[84.3,-1,-3.5,-5.9],[87.8,-2.7,-5],[93,-1.9,-4.3],[95.4,-6.3],[103.3,3,1.4,-0.6,-2.7,-3.5],[106.8,-3.5],[118,-4.3,-6.3,-8.3],[126.5,-8.9],[125.8,-3.1,-5],[132.7,3,-1,-3.5,-5.9],[136,-2,-4],[139.6,-3.5,-5],[148.2,-2.7,-5,-6.3],[151.7,-7.5],[155,-2,-4],[158.6,1,-1,-3.5,-5.9],[162,-2.7,-7.1],[165.5,0.6,-5],[169,-3.5,-7.5],[172.4,-3.9,-5.9],[174.2,-7.9],[177.6,-0.2,-4.3],[181,-5,-6.7],[184.5,-2.7],[191.4,-1.5,-3.5,-4.3],[194.9,2.2,-2.7,-5,-7.5],[196.6,-9.9],[200,-3.5,-4.3],[208.7,-3.9,-5.9,-7.5],[212.2,-1.5,-3.5],[215.6,-2.7,-4.3],[219,-3.9,-5.1],
[36,-4,-5],[39,-3.5,-4.5],[43,-3,-4,-5],[46,-3,-4.5],[48.500,-3,-4],[51,-3.5,-4.5],[55,-3,-4],[57.500,-3.5],[60,-3,-4.4],[76,-3,-4.4],[79,-2.6,-4],[82.500,-3.2,-4.8],[86,-2.4,-3.8],[90,-3,-4],[92,-3,-4.8],[104.5,-1,-3,-4.5],[105.5,-2,-3.6],[128,-3,-4.2,-5],[130,-3.4,-4.6],[134,-2.8,-4],[137,-3,-4.4],[150,-3,-4.6],[153,-3.2,-5],[156,-3,-4.4],[160,-3,-4.5,-2],[164,-3.5,-5],[167,-3.6,-4.6],[171,-3,-4.6],[175,-3.4,-5.4],[179,-3,-5],[183,-3,-5],[193,-3,-4.4],[197,-3.4,-4.8],[210,-3.5,-5],[214,-3,-4.6],[217,-3,-4,-5],[220,-3.4,-4.6],
[402.2,-3.9],[405.7,-5],[407.4,-8.3],[410,-4],[414.3,1,-1.9,-5,-8.3],[417.8,-3.5],[421.2,-3.5,-5.9],[424.7,-2.7,-5,-7.5],[428,-2.7,-5.9],[431,-3,-4],[433.3,1.8,-1.9,-4.7],[436.8,-2.7,-3.5],[440.2,-2.7,-3.5],[443.7,-3.1],[442,-5.9],
[404,-4.5,-5.5],[409,-5,-6],[412,-4,-5],[416,-4,-5.5],[419,-4.5,-5],[423,-4,-4.6],[426,-3.6,-4.4],[429.500,-3.6,-4.8],[435,-3,-4.2,-5],[438.500,-3.2,-4.4],[441,-2.4,-3.2,-4.2],[443,-2.5,-3.8],
[468,-3,-5],[472.9,-3.5],[478.8,4.6,-11],[476.6,1.4,-7.5],[482.1,-1.5,-6.7],[485.8,-1.7],[504.2,-3.9,-5.1,-2.3],[507.9,-2.7],[509.7,-1.5,-4.3],[511.6,-3.9],[515,-3,-4.5],[522.7,-3.5],[528,-4,-5],[534,-3],[541.1,1.4],[553.3,-7.5,-5.1],[552.2,-3.5],[557,-2.7],[567.6,-1.5,-3.9],[574.3,-3.5,-5.1],[601.9,6.6,-2.3,-4.3,-6.3],[607.5,-3.5],[611.2,-3.5],[614.8,2.2],[616.7,-4.3,-5.5],[622.2,-4.7],[628.8,-7.9],[630.3,-4.1],
[484,-2.5,-4],[506,-3.4,-4.6],[513,-2.6,-4.4],[518,-3.6,-4.8],[520,-3,-4.2],[525,-3.4,-5],[531,-3.6,-4.4],[537,-3,-4.6],[543,-3.4,-4.4],[547,-3,-5],[549,-3.4,-4.2],[555,-3.2,-4.4],[559,-3,-4],[576,-3,-4.4],[579,-3.5,-4.8],[604,-3.4,-4.6],[609,-3,-4],[619,-4,-5],
[762.3,-3.9,-6.7],[766,-2.3,-5.1],[769.7,-3.5],[777,-4.3],[780.8,-3.5],[783.3,1,-4.3,-9.9,-12.3],[788.2,-1.5,-3.9],[795.5,-5.9],[801,-3.5,-6.7],[802.9,0.6],[804.7,-7.9,-9.5],[808.4,-1,-3.5,-5],[811.4,-1.9,-4.7],[814,2.2,-2.7,-4.3],[817.6,-3.9,-5.9],[821.3,-5],[825,0.6,-5.9,-8.3],[828.7,-3.9,-5.9],[842.3,-5.1,-5.9],[856.4,-4.7],[887.7,-8.3,-10.7],[890.3,0.7,-5.1],[895,-5.1,-6.7],[902.5,-1.9,-3.5],[906.1,-2.7],[913.5,-1.5,-5.1],[921.6,-3.9,-5.5],[933.8,-0.2,-3.5],[937.5,-7.1],[944.1,-3.9,-5.5],[950.4,-2.3,-3.9],[959.6,-3.9,-6.5],[961.5,-3.5],
[764,-4,-5],[768,-3.5,-4.5],[772,-4,-5],[775,-3.6,-4.6],[779,-3.8,-4.8],[782,-3,-5],[786,-3.5,-4.5],[790,-3,-4.4],[798,-3,-4.6],[803,-3,-4,-5],[806,-2,-3,-4,-5],[809,-2.5,-3,-4,-5],[810,-3.5,-4.4,-2.4],[812.5,-2,-3,-4,-5],[813,-1,-3.4,-4.6],[815.5,-1.5,-2.6,-3.8,-5],[816.5,-2.4,-4.2],[819,-3,-4.2],[823,-3.4,-5],[827,-3.4,-4.8],[889,-3.6,-4.8],[893,-3.4,-4.4],[897,-3,-4],[900,-2.6,-3.8],[903.5,-2.4,-3.2],[905,-2,-3.6]];

const sodankylaIasiBias = [
[34.2,-3,-17.8],[58.4,2.6],[60.8,-3.9],[76.4,-22],[103.3,18.9],[126.5,13.9,11],[127.5,7.8,4.6,1.4,-0.2],[131,18.3],[132,15.5],[133.7,9.8,-4.7],[133,7.8,5.4],[151,-0.6],[158.6,3.4],[159.3,6.2],[160.3,23.9,18.9],[165.5,17.1,10.5],[166.2,-9.5],[163.8,-4.8],[173.5,33,25.5,2.2],[174.2,18.9,18.3,4.2],[175.2,8.2],[175.8,12.3],[178.6,11],[179.3,-2.3],[195.6,19.1,16.7,9.4],[196.6,11.4],[208.7,9.8],[211,12.9],[59.4,-36],
[129,8,6,3],[131.5,7,5,3,2],[133,3.5],
[468.4,6.2,4.2],[469,1.4],[476.6,26.1],[478.4,10.5],[485.4,14],[505.3,22.3],[517.1,8.2,3.8,0.2],[517.9,-23],[526.3,-25.2,7],[533.7,7.4],[531,4.6],[541.1,8.2],[546.6,2.2,-13.5],[543.7,-7.9],[525.6,-13.7],[555.5,23.1,7.7],[567.6,8.9,5.6],[575.4,7.6],[856.4,2.6,1.4,-2.1],[867.4,7]];

const sodankylaTropomiBias = [
[468.4,-5.9,-14.2],[482.1,-3.9],[516.4,-3.5],[517.1,-13.1,-6.7],[526.3,2.2,-0.2],[527.4,-21.4,-29.8],[524.5,-9.1],[532.6,1.8,-2.7,-11.9],[533.7,-5.9],[538.5,-15.2],[541.1,5.6,-5.1],[544.8,-10.3],[545.9,-11.5,-1],[555.5,-14.2],[567.6,-11.1,-12.7],[576.9,-12.1],[574.3,-20.1],[575.4,-27.6],[576.1,-7.1],[579.4,-3.7],[601.9,-8.9],[604.5,-10.1],[789.6,-8.1,-10.3],[793.7,-4.1],[890.7,-12.3,-14.7],[891.7,-3.3],[901.7,-5.1],[901.4,-9.9],
[528,-2,-4,-6],[530,-1,-3,-5,-7],[535,-1,-4,-6],[523,-5,-7]];

const SVGNS = 'http://www.w3.org/2000/svg';
const root = document.getElementById('plots');
const STAR = '0,-1 .2245,-.309 .951,-.309 .363,.118 .588,.809 0,.382 -.588,.809 -.363,.118 -.951,-.309 -.2245,-.309';
const X_LEFT = 141, X_RIGHT = 1992;

function dayOf(label) {
  const parts = label.split('-');
  return (Date.UTC(+parts[0], +parts[1] - 1, 1) - Date.UTC(2017, 1, 1)) / 86400000;
}
const xMax = dayOf(dateTickLabels[dateTickLabels.length - 1]);
function xScale(day) { return X_LEFT + day * (X_RIGHT - X_LEFT) / xMax; }
function linearY(top, bottom, lo, hi) {
  return function (v) { return bottom - (v - lo) * (bottom - top) / (hi - lo); };
}

function drawMark(group, kind, px, py, size, color, seriesName) {
  let el;
  if (kind === 'triangle') {
    el = document.createElementNS(SVGNS, 'polygon');
    el.setAttribute('points', px + ',' + (py - size) + ' ' + (px + size) + ',' + (py + size) + ' ' + (px - size) + ',' + (py + size));
    el.setAttribute('fill', color);
  } else if (kind === 'plus') {
    el = document.createElementNS(SVGNS, 'path');
    el.setAttribute('d', 'M' + (px - size) + ' ' + py + 'H' + (px + size) + 'M' + px + ' ' + (py - size) + 'V' + (py + size));
    el.setAttribute('stroke', color);
    el.setAttribute('stroke-width', size > 7.5 ? 2.9 : (size > 5 ? 3 : 3.5));
    el.setAttribute('fill', 'none');
  } else if (kind === 'star') {
    el = document.createElementNS(SVGNS, 'polygon');
    el.setAttribute('points', STAR);
    el.setAttribute('transform', 'translate(' + px + ',' + py + ') scale(' + size + ')');
    el.setAttribute('fill', color);
  } else {
    el = document.createElementNS(SVGNS, 'circle');
    el.setAttribute('cx', px);
    el.setAttribute('cy', py);
    el.setAttribute('r', size);
    el.setAttribute('fill', color);
  }
  
  
  group.appendChild(el);
}

function drawSeries(rows, yScale, kind, size, color, seriesName) {
  const g = document.createElementNS(SVGNS, 'g');
  
  
  rows.forEach(function (row) {
    for (let i = 1; i < row.length; i++) {
      drawMark(g, kind, xScale(row[0]), yScale(row[i]), size, color, seriesName);
    }
  });
  root.appendChild(g);
}

function line(parent, x1, y1, x2, y2, stroke, width, dash, partName) {
  const el = document.createElementNS(SVGNS, 'line');
  el.setAttribute('x1', x1);
  el.setAttribute('y1', y1);
  el.setAttribute('x2', x2);
  el.setAttribute('y2', y2);
  el.setAttribute('stroke', stroke);
  el.setAttribute('stroke-width', width);
  if (dash) el.setAttribute('stroke-dasharray', dash);
  
  
  parent.appendChild(el);
}

function label(parent, x, y, anchor, content, partName) {
  const el = document.createElementNS(SVGNS, 'text');
  el.setAttribute('class', 'tk');
  el.setAttribute('x', x);
  el.setAttribute('y', y);
  el.setAttribute('text-anchor', anchor);
  el.textContent = content;
  
  
  parent.appendChild(el);
}

function drawAxes(top, bottom, yTicks, yScale, showX, panelName) {
  const g = document.createElementNS(SVGNS, 'g');
  
  
  dateTickLabels.forEach(function (t) {
    const x = xScale(dayOf(t));
    line(g, x, top, x, bottom, '#8c8c8c', 1.4, '2.4 2', 'vertical-gridline');
    line(g, x, bottom, x, bottom + 7, '#222', 1.6, null, 'x-tick');
    if (showX) label(g, x, bottom + 33.5, 'middle', t, 'x-tick-label');
  });
  yTicks.forEach(function (v) {
    const y = yScale(v);
    line(g, X_LEFT, y, X_RIGHT, y, '#8c8c8c', 1.5, '2.4 2', 'horizontal-gridline');
    line(g, X_LEFT - 7, y, X_LEFT, y, '#222', 1.6, null, 'y-tick');
    label(g, 129, y + 10, 'end', String(v).replace('-', '\u2212'), 'y-tick-label');
  });
  root.appendChild(g);
  return function drawFrame() {
    const f = document.createElementNS(SVGNS, 'rect');
    f.setAttribute('x', X_LEFT);
    f.setAttribute('y', top);
    f.setAttribute('width', X_RIGHT - X_LEFT);
    f.setAttribute('height', bottom - top);
    f.setAttribute('fill', 'none');
    f.setAttribute('stroke', '#333');
    f.setAttribute('stroke-width', 2);
    
    
    root.appendChild(f);
  };
}

/* Panel a, XH2O */
const yA1 = linearY(95, 531.4, 0, 6500);
const frameA1 = drawAxes(95, 531.4, ppmTickValues, yA1, false, 'kiruna-xh2o');
drawSeries(kirunaCoccon, yA1, 'triangle', 7.9, '#008000', 'kiruna-coccon');
drawSeries(kirunaNdacc, yA1, 'plus', 7, '#ff0000', 'kiruna-musica-ndacc');
drawSeries(kirunaIasi, yA1, 'star', 8.2, '#ffa500', 'kiruna-musica-iasi');
drawSeries(kirunaTropomi, yA1, 'circle', 5.3, '#0000ff', 'kiruna-tropomi');
frameA1();

/* Panel a, bias */
const yA2 = linearY(568, 1005, -60, 40);
const frameA2 = drawAxes(568, 1005, biasTickValues, yA2, true, 'kiruna-bias');
drawSeries(kirunaNdaccBias, yA2, 'plus', 8.4, '#ff7f50', 'kiruna-ndacc-bias');
drawSeries(kirunaIasiBias, yA2, 'star', 9.4, '#ffdfae', 'kiruna-iasi-bias');
drawSeries(kirunaTropomiBias, yA2, 'circle', 9, '#a8d6e6', 'kiruna-tropomi-bias');
frameA2();

/* Panel b, XH2O */
const yB1 = linearY(1237, 1674, 0, 6500);
const frameB1 = drawAxes(1237, 1674, ppmTickValues, yB1, false, 'sodankyla-xh2o');
drawSeries(sodankylaCoccon, yB1, 'triangle', 7.9, '#008000', 'sodankyla-coccon');
drawSeries(sodankylaTccon, yB1, 'plus', 4.6, '#ff0000', 'sodankyla-tccon');
drawSeries(sodankylaIasi, yB1, 'star', 8.2, '#ffa500', 'sodankyla-musica-iasi');
drawSeries(sodankylaTropomi, yB1, 'circle', 5.3, '#0000ff', 'sodankyla-tropomi');
frameB1();

/* Panel b, bias */
const yB2 = linearY(1711, 2147.5, -60, 40);
const frameB2 = drawAxes(1711, 2147.5, biasTickValues, yB2, true, 'sodankyla-bias');
drawSeries(sodankylaTcconBias, yB2, 'plus', 8.4, '#ff7f50', 'sodankyla-tccon-bias');
drawSeries(sodankylaIasiBias, yB2, 'star', 9.4, '#ffdfae', 'sodankyla-iasi-bias');
drawSeries(sodankylaTropomiBias, yB2, 'circle', 9, '#a8d6e6', 'sodankyla-tropomi-bias');
frameB2();
</script>
</body>
</html>
